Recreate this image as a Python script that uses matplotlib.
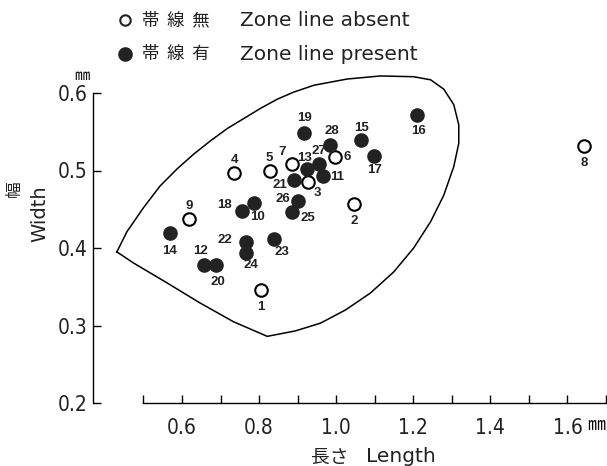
import matplotlib
matplotlib.use("Agg")
import matplotlib.pyplot as plt
from matplotlib.lines import Line2D

lat = ['DejaVu Sans', 'Noto Sans CJK JP']
cjk = ['Noto Sans CJK JP', 'DejaVu Sans']

# 帯線無 (open circles), specimens 1-9
absent_id = [1, 2, 3, 4, 5, 6, 7, 8, 9]
absent_len = [0.805, 1.047, 0.927, 0.736, 0.827, 0.998, 0.886, 1.643, 0.619]
absent_wid = [0.346, 0.457, 0.485, 0.497, 0.499, 0.517, 0.508, 0.532, 0.437]

# 帯線有 (filled circles), specimens 10-28
present_id = [10, 11, 12, 13, 14, 15, 16, 17, 18, 19, 20, 21, 22, 23, 24, 25, 26, 27, 28]
present_len = [0.788, 0.965, 0.658, 0.925, 0.569, 1.065, 1.210, 1.099, 0.756, 0.916,
               0.689, 0.891, 0.766, 0.838, 0.766, 0.885, 0.901, 0.956, 0.983]
present_wid = [0.458, 0.493, 0.378, 0.502, 0.419, 0.539, 0.572, 0.519, 0.448, 0.549,
               0.378, 0.488, 0.408, 0.412, 0.393, 0.446, 0.461, 0.509, 0.533]

# hand-drawn envelope round the points
env_len = [0.431, 0.457, 0.500, 0.543, 0.587, 0.630, 0.673, 0.717, 0.760, 0.803,
           0.847, 0.889, 0.942, 1.028, 1.115, 1.201, 1.245, 1.279, 1.305, 1.318,
           1.318, 1.305, 1.279, 1.245, 1.201, 1.149, 1.089, 1.024, 0.959, 0.894,
           0.821, 0.733, 0.647, 0.561, 0.473, 0.431]
env_wid = [0.395, 0.421, 0.452, 0.480, 0.502, 0.521, 0.538, 0.554, 0.567, 0.580,
           0.592, 0.601, 0.610, 0.618, 0.622, 0.621, 0.617, 0.605, 0.585, 0.559,
           0.535, 0.505, 0.468, 0.434, 0.400, 0.369, 0.342, 0.320, 0.303, 0.293,
           0.286, 0.305, 0.329, 0.355, 0.381, 0.395]

x_ticks = [0.5, 0.6, 0.7, 0.8, 0.9, 1.0, 1.1, 1.2, 1.3, 1.4, 1.5, 1.6, 1.7]
x_labels = ['', '0.6', '', '0.8', '', '1.0', '', '1.2', '', '1.4', '', '1.6', '']
y_ticks = [0.2, 0.3, 0.4, 0.5, 0.6]

# label offsets in pixels (dx, dy) for each specimen number
offs = {1: (0, -17), 2: (0, -17), 3: (9, -11), 4: (0, 13), 5: (0, 13), 6: (12, 0),
        7: (-10, 12), 8: (0, -17), 9: (0, 13), 10: (3, -14), 11: (14, -1),
        12: (-4, 14), 13: (-3, 11), 14: (-1, -18), 15: (0, 12), 16: (1, -16),
        17: (0, -14), 18: (-18, 6), 19: (1, 15), 20: (2, -17), 21: (-14, -5),
        22: (-21, 2), 23: (8, -13), 24: (5, -12), 25: (16, -6), 26: (-15, 2),
        27: (0, 13), 28: (2, 14)}

W, H = 607, 466
fig = plt.figure(figsize=(W / 100, H / 100), dpi=100)
ax = fig.add_axes([93 / W, 1 - 403 / H, (606 - 93) / W, (403 - 93) / H])
ax.set_xlim(0.369, 1.7)
ax.set_ylim(0.2, 0.6)

ax.plot(env_len, env_wid, color='black', lw=1.1, clip_on=False)
ax.plot(absent_len, absent_wid, 'o', ms=9, mfc='white', mec='black', mew=1.5,
        ls='none', clip_on=False)
ax.plot(present_len, present_wid, 'o', ms=9.5, mfc='#222222', mec='#222222',
        ls='none', clip_on=False)

for ids, xs, ys in [(absent_id, absent_len, absent_wid),
                    (present_id, present_len, present_wid)]:
    for i, x, y in zip(ids, xs, ys):
        ax.annotate(str(i), (x, y), xytext=offs[i], textcoords='offset pixels',
                    ha='center', va='center', fontsize=9.5, fontweight='bold',
                    family=['Liberation Sans', 'DejaVu Sans'], color='#222222')

for s in ['top', 'right']:
    ax.spines[s].set_visible(False)
ax.spines['left'].set_bounds(0.2, 0.6)
ax.spines['bottom'].set_bounds(0.5, 1.7)
ax.spines['left'].set_linewidth(1.0)
ax.spines['bottom'].set_linewidth(1.0)

ax.set_xticks(x_ticks)
ax.set_xticklabels(x_labels)
ax.set_yticks(y_ticks)
ax.set_yticklabels(['%.1f' % v for v in y_ticks])
ax.tick_params(direction='in', length=6, width=1, labelsize=15)
ax.tick_params(axis='x', pad=11)
ax.tick_params(axis='y', pad=4)
for lab in ax.get_xticklabels() + ax.get_yticklabels():
    lab.set_family('DejaVu Sans')
    lab.set_stretch('condensed')
    lab.set_color('#222222')

# unit marks
ax.annotate('㎜', (1.6, 0.2), xytext=(29, -22), textcoords='offset pixels',
            ha='center', va='center', fontsize=13, family=cjk, annotation_clip=False)
fig.text(82 / W, 1 - 76 / H, '㎜', ha='center', va='center', fontsize=11, family=cjk)

# axis titles
fig.text(330 / W, 1 - 457 / H, '長さ', ha='center', va='center',
         fontsize=13.5, family=cjk, color='#222222')
fig.text(366 / W, 1 - 457 / H, 'Length', ha='left', va='center',
         fontsize=14.5, family=lat, color='#222222')
fig.text(40 / W, 1 - 214 / H, 'Width', ha='center', va='center', rotation=90,
         fontsize=14, family=lat, color='#222222')
fig.text(14 / W, 1 - 189 / H, '幅', ha='center', va='center', rotation=90,
         fontsize=12, family=cjk, color='#222222')

# legend
rows = [(20, '帯  線  無', 'Zone line absent', 'white'),
        (54, '帯  線  有', 'Zone line present', '#222222')]
for yy, jtxt, etxt, fc in rows:
    fig.add_artist(Line2D([125 / W], [1 - yy / H], marker='o',
                          ms=7.5 if fc == 'white' else 9, mfc=fc, mec='#222222',
                          mew=1.5, transform=fig.transFigure))
    fig.text(142 / W, 1 - yy / H, jtxt, va='center', fontsize=12.5, family=cjk,
             color='#222222')
    fig.text(240 / W, 1 - yy / H, etxt, va='center', fontsize=14.5, family=lat,
             color='#222222')

fig.savefig('out.png', dpi=100)
